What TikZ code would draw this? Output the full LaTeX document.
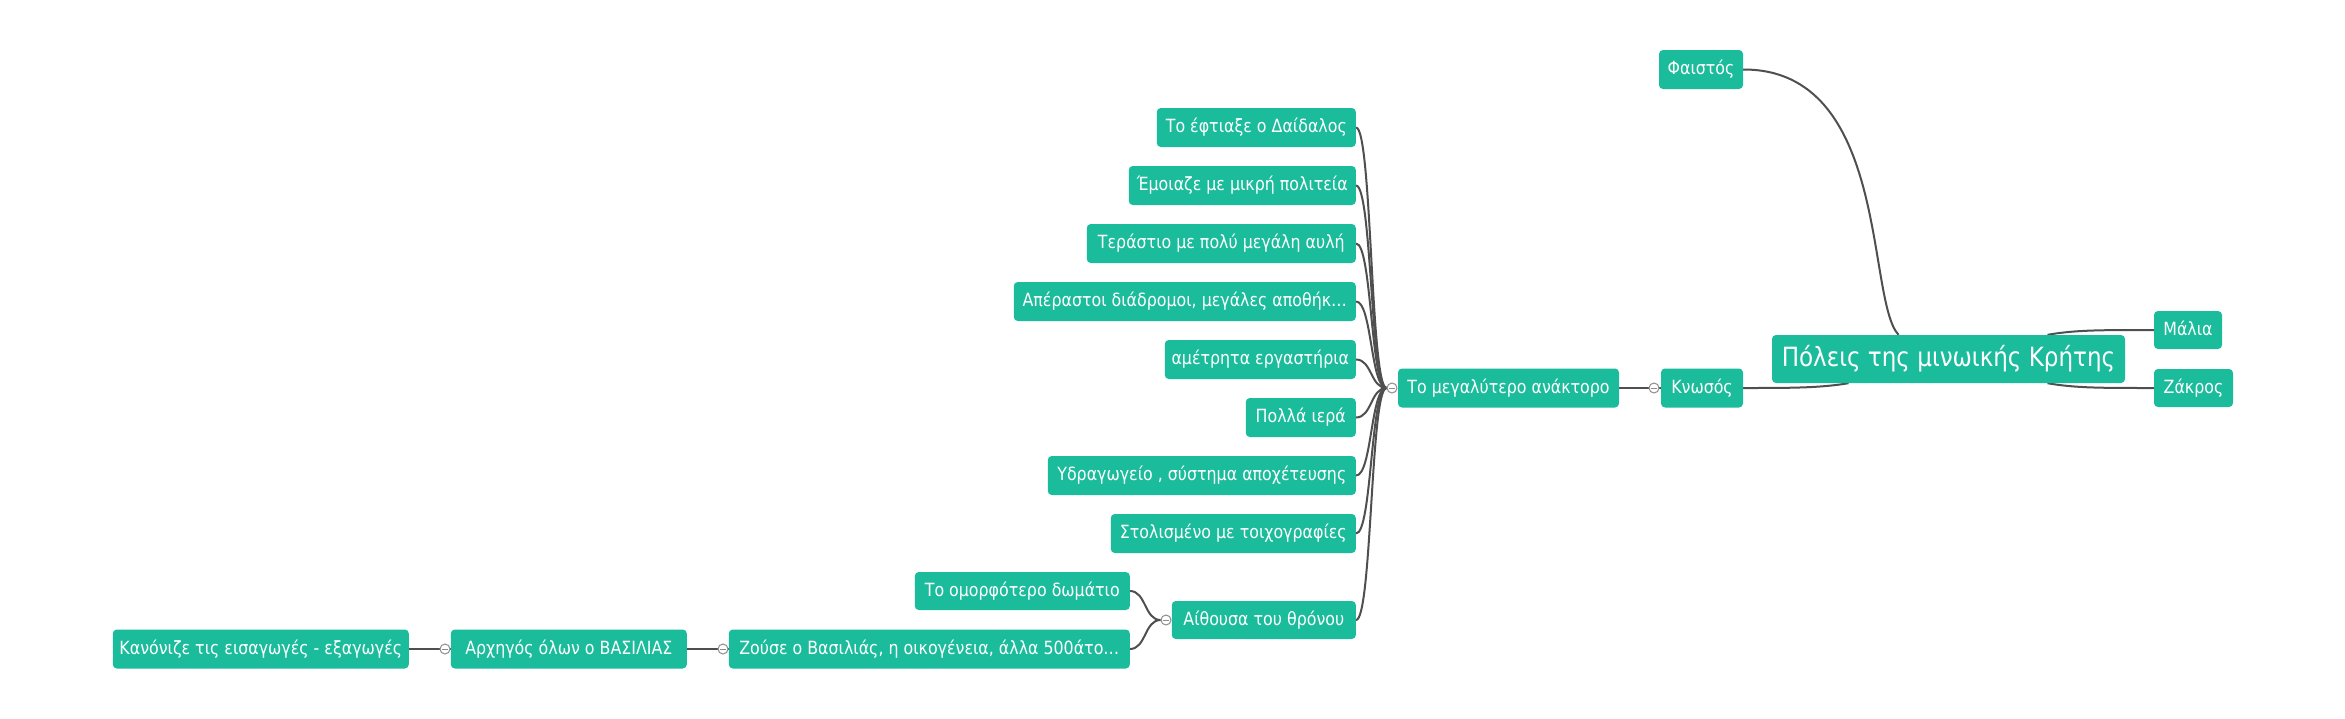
\documentclass[tikz,border=0pt]{standalone}
\usepackage{fontspec}
\setmainfont{DejaVu Sans}[FakeStretch=0.87]
\definecolor{tealbox}{HTML}{1ABC9C}
\definecolor{edgec}{HTML}{4F4F4F}
\definecolor{togc}{HTML}{8C8C8C}
\pgfdeclarelayer{bg}
\pgfsetlayers{bg,main}
\begin{document}
\begin{tikzpicture}[x=1pt,y=-1pt,
 box/.style={fill=tealbox, rounded corners=4pt, text=white, inner sep=0pt, minimum height=39pt, text height=13.3pt, text depth=3pt, font=\fontsize{18.2}{22}\selectfont},
 rootbox/.style={box, minimum height=48pt, text height=19.3pt, text depth=5.3pt, font=\fontsize{26.5}{30}\selectfont},
 tog/.style={circle, draw=togc, fill=white, line width=1pt, minimum size=10pt, inner sep=0pt, path picture={\draw[togc, line width=1pt] ([xshift=-3pt]path picture bounding box.center) -- ([xshift=3pt]path picture bounding box.center);}},
 link/.style={draw=edgec, line width=2pt},
 bar/.style={draw=edgec, line width=2.5pt}
]
\useasboundingbox (0,0) rectangle (2345,718);
% right part
\node[rootbox, minimum width=353pt] (root) at (1948.5,359) {Πόλεις της μινωικής Κρήτης};
\node[box, minimum width=84pt] (faistos) at (1701,69.5) {Φαιστός};
\node[box, minimum width=68pt, minimum height=38pt] (malia) at (2188,330) {Μάλια};
\node[box, minimum width=79pt, minimum height=38pt] (zakros) at (2193.5,388) {Ζάκρος};
\node[box, minimum width=82pt] (knossos) at (1702,388) {Κνωσός};
\node[box, minimum width=221pt] (anaktoro) at (1508.5,388) {Το μεγαλύτερο ανάκτορο};
% left column
\node[box, anchor=east, minimum width=199pt] (c1) at (1356,127.5) {Το έφτιαξε ο Δαίδαλος};
\node[box, anchor=east, minimum width=227pt] (c2) at (1356,185.5) {Έμοιαζε με μικρή πολιτεία};
\node[box, anchor=east, minimum width=269pt] (c3) at (1356,243.5) {Τεράστιο με πολύ μεγάλη αυλή};
\node[box, anchor=east, minimum width=342pt] (c4) at (1356,301.5) {Απέραστοι διάδρομοι, μεγάλες αποθήκ…};
\node[box, anchor=east, minimum width=191pt] (c5) at (1356,359.5) {αμέτρητα εργαστήρια};
\node[box, anchor=east, minimum width=110pt] (c6) at (1356,417.5) {Πολλά ιερά};
\node[box, anchor=east, minimum width=308pt] (c7) at (1356,475.5) {Υδραγωγείο , σύστημα αποχέτευσης};
\node[box, anchor=east, minimum width=245pt] (c8) at (1356,533.5) {Στολισμένο με τοιχογραφίες};
\node[box, anchor=east, minimum width=184pt, minimum height=38pt] (c9) at (1356,620) {Αίθουσα του θρόνου};
% lower chain
\node[box, anchor=east, minimum width=215pt, minimum height=38pt] (d1) at (1130,591) {Το ομορφότερο δωμάτιο};
\node[box, anchor=east, minimum width=401pt] (d2) at (1130,649) {Ζούσε ο Βασιλιάς, η οικογένεια, άλλα 500άτο…};
\node[box, anchor=east, minimum width=236pt] (e1) at (687,649) {Αρχηγός όλων ο ΒΑΣΙΛΙΑΣ};
\node[box, anchor=east, minimum width=296pt] (f1) at (409,649) {Κανόνιζε τις εισαγωγές - εξαγωγές};
% toggles
\node[tog] (t1) at (1392,388) {};
\node[tog] (t2) at (1654,388) {};
\node[tog] (t3) at (1166,620) {};
\node[tog] (t4) at (723,649) {};
\node[tog] (t5) at (445,649) {};
\begin{pgfonlayer}{bg}
\draw[bar] (anaktoro.east) -- (knossos.west);
\draw[bar] (f1.east) -- (e1.west);
\draw[bar] (e1.east) -- (d2.west);
\draw[link] (knossos.east) .. controls (1790,388) and (1820,388) .. ([xshift=-100pt]root.south);
\draw[link] (faistos.east) .. controls (1890,69) and (1866,300) .. ([xshift=-50pt]root.north);
\draw[link] ([xshift=99pt]root.north) .. controls (2075,330) and (2100,330) .. (malia.west);
\draw[link] ([xshift=99pt]root.south) .. controls (2075,388) and (2100,388) .. (zakros.west);
\foreach \n in {c1,c2,c3,c4,c5,c6,c7,c8,c9}
  \draw[link] (\n.east) .. controls +(16,0) and +(-16,0) .. (t1.west);
\foreach \n in {d1,d2}
  \draw[link] (\n.east) .. controls +(16,0) and +(-16,0) .. (t3.west);
\end{pgfonlayer}
\end{tikzpicture}
\end{document}
